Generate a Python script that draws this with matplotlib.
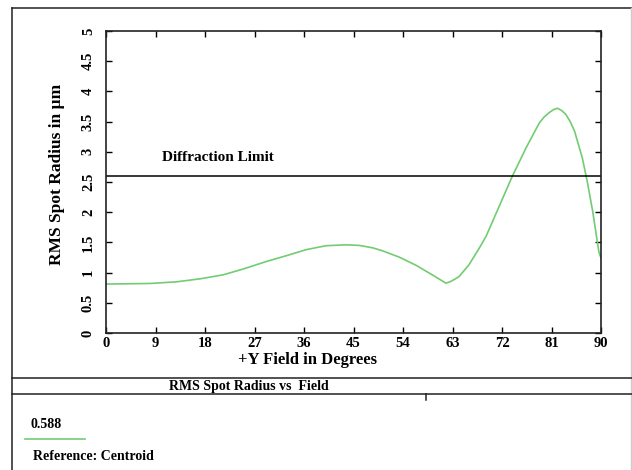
import matplotlib.pyplot as plt
from matplotlib.lines import Line2D

# data
field_deg = [0, 8.0, 12.8, 17.1, 21.3, 24.9, 29.2, 32.8, 36.4, 40.0, 43.7, 46.1,
             48.5, 50.3, 53.3, 56.4, 59.4, 61.0, 61.8, 62.6, 63.4, 64.2, 66.0, 67.9, 69.1, 71.5,
             73.9, 76.4, 78.8, 79.7, 80.6, 81.4, 82.1, 82.9, 83.6, 84.4, 85.2, 86.6, 87.5,
             88.5, 89.6, 90]
rms_radius = [0.81, 0.82, 0.847, 0.897, 0.963, 1.058, 1.185, 1.28, 1.38, 1.445, 1.46, 1.45,
              1.41, 1.36, 1.257, 1.12, 0.958, 0.87, 0.825, 0.85, 0.89, 0.935, 1.13, 1.41, 1.6, 2.1,
              2.6, 3.07, 3.48, 3.58, 3.65, 3.70, 3.72, 3.68, 3.62, 3.50, 3.34, 2.9, 2.51,
              2.01, 1.35, 1.24]
diffraction_limit = 2.6
x_ticks = [0, 9, 18, 27, 36, 45, 54, 63, 72, 81, 90]
y_ticks = [0, 0.5, 1, 1.5, 2, 2.5, 3, 3.5, 4, 4.5, 5]
y_tick_labels = ['0', '0.5', '1', '1.5', '2', '2.5', '3', '3.5', '4', '4.5', '5']

plt.rcParams['font.family'] = ['Liberation Serif', 'DejaVu Serif']
plt.rcParams['font.weight'] = 'bold'

W, H = 632, 470
fig = plt.figure(figsize=(W / 100, H / 100), dpi=100)

def fx(px):
    return px / W

def fy(py):
    return 1 - py / H

ax = fig.add_axes([fx(106), fy(333), fx(601) - fx(106), fy(31) - fy(333)])

ax.plot(field_deg, rms_radius, color='#72cc72', linewidth=1.2)
ax.axhline(diffraction_limit, color='black', linewidth=1.1)
ax.text(10.2, 2.9, 'Diffraction Limit', fontsize=11, fontweight='bold', va='center')

ax.set_xlim(0, 90)
ax.set_ylim(0, 5)
ax.set_xticks(x_ticks)
ax.set_xticklabels([str(t) for t in x_ticks], fontsize=10.5, fontweight='bold')
ax.set_yticks(y_ticks)
ax.set_yticklabels(y_tick_labels, fontsize=10.5, fontweight='bold', rotation=90, va='center')
ax.tick_params(direction='in', length=4, width=1, top=True, right=True, pad=3)
ax.tick_params(axis='y', pad=8)
for sp in ax.spines.values():
    sp.set_linewidth(1.2)
    sp.set_color('#222222')

ax.text((307 - 106) / 495, -0.09, '+Y Field in Degrees', transform=ax.transAxes,
        ha='center', va='center', fontsize=12, fontweight='bold')
fig.text(fx(57), fy(174), 'RMS Spot Radius in µm', rotation=90, ha='center', va='center',
         fontsize=12.5, fontweight='bold')

# outer frame and separators
frame = dict(color='#222222', linewidth=1.1)
fig.add_artist(Line2D([fx(12), fx(12)], [fy(8), 0], **frame))
fig.add_artist(Line2D([fx(12), 1], [fy(8), fy(8)], **frame))
fig.add_artist(Line2D([fx(630.5), fx(630.5)], [fy(8), 0], color='#cccccc', linewidth=1))
fig.add_artist(Line2D([fx(12), 1], [fy(378), fy(378)], **frame))
fig.add_artist(Line2D([fx(12), 1], [fy(394), fy(394)], **frame))
fig.add_artist(Line2D([fx(425.5), fx(425.5)], [fy(394), fy(400)], **frame))

fig.text(fx(169), fy(386.5), 'RMS Spot Radius vs  Field', fontsize=10, fontweight='bold', va='center')
fig.text(fx(30), fy(424), '0.588', fontsize=10, fontweight='bold', va='center')
fig.add_artist(Line2D([fx(25), fx(85)], [fy(439), fy(439)], color='#72cc72', linewidth=1.2))
fig.text(fx(33), fy(456), 'Reference: Centroid', fontsize=10, fontweight='bold', va='center')

fig.savefig('out.png', dpi=100)
